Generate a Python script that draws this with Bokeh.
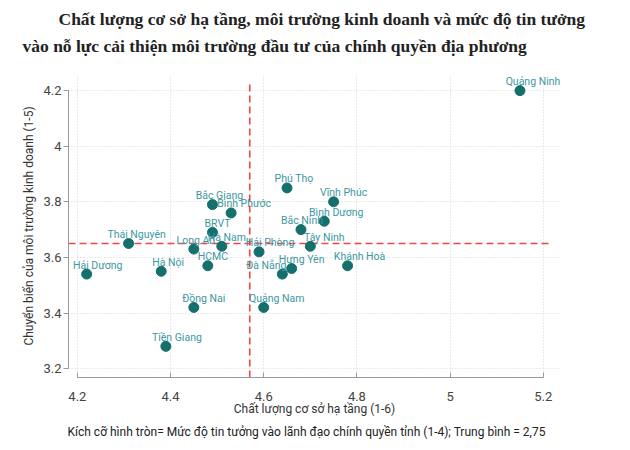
from bokeh.plotting import figure
from bokeh.models import (ColumnDataSource, FixedTicker, CustomJSTickFormatter, Title, LabelSet)
from bokeh.core.properties import value
from bokeh.embed import file_html
from bokeh.resources import INLINE

# ---- data ----
names = ["Quảng Ninh", "Hải Dương", "Thái Nguyên", "Hà Nội", "Bắc Giang", "Bình Phước",
         "BRVT", "Long An", "Hà Nam", "HCMC", "Đồng Nai", "Tiền Giang", "Hải Phòng",
         "Quảng Nam", "Đà Nẵng", "Hưng Yên", "Phú Thọ", "Bắc Ninh", "Tây Ninh",
         "Bình Dương", "Vĩnh Phúc", "Khánh Hoà"]
infra = [5.15, 4.22, 4.31, 4.38, 4.49, 4.53, 4.49, 4.45, 4.51, 4.48, 4.45, 4.39, 4.59,
         4.60, 4.64, 4.66, 4.65, 4.68, 4.70, 4.73, 4.75, 4.78]
env = [4.20, 3.54, 3.65, 3.55, 3.79, 3.76, 3.69, 3.63, 3.64, 3.57, 3.42, 3.28, 3.62,
       3.42, 3.54, 3.56, 3.85, 3.70, 3.64, 3.73, 3.80, 3.57]
mean_infra = 4.57
mean_env = 3.65
x_ticks = [4.2, 4.4, 4.6, 4.8, 5.0, 5.2]
y_ticks = [3.2, 3.4, 3.6, 3.8, 4.0, 4.2]

title_1 = "Chất lượng cơ sở hạ tầng, môi trường kinh doanh và mức độ tin tưởng"
title_2 = "vào nỗ lực cải thiện môi trường đầu tư của chính quyền địa phương"
x_label = "Chất lượng cơ sở hạ tầng (1-6)"
y_label = "Chuyển biến của môi trường kinh doanh (1-5)"
caption = "Kích cỡ hình tròn= Mức độ tin tưởng vào lãnh đạo chính quyền tỉnh (1-4); Trung bình = 2,75"

# label pixel nudges (style)
label_dx = [13, 11, 8, 7, 7, 13, 5, 2, 5, 5, 10, 11, 11, 13, -16, 10, 7, 1, 14, 12, 10, 12]

SANS = "Roboto"
TITLE_FONT = "Liberation Serif"
X_LO, X_HI = 4.181, 5.237
Y_LO, Y_HI = 3.168, 4.258
Y_LINE_TOP = 4.228
X_LINE_RIGHT = 5.217

src = ColumnDataSource(dict(x=infra, y=env, name=names, dx=label_dx))

p = figure(width=630, height=450, output_backend="svg", toolbar_location=None,
           x_range=(X_LO, X_HI), y_range=(Y_LO, Y_HI),
           min_border_left=68, min_border_right=70, min_border_top=74, min_border_bottom=73)
p.outline_line_color = None
p.background_fill_color = "white"

# axes
for ax in (p.xaxis[0], p.yaxis[0]):
    ax.axis_line_color = "#9a9a9a"
    ax.major_tick_line_color = "#9a9a9a"
    ax.minor_tick_line_color = None
    ax.major_label_text_font = SANS
    ax.major_label_text_font_size = "13px"
    ax.major_label_text_color = "#444444"
    ax.axis_label_text_font = SANS
    ax.axis_label_text_font_size = "12px"
    ax.axis_label_text_font_style = "normal"
    ax.axis_label_text_color = "#333333"
    ax.formatter = CustomJSTickFormatter(code="return String(Math.round(tick*10)/10)")

p.xaxis.ticker = FixedTicker(ticks=x_ticks)
p.yaxis.ticker = FixedTicker(ticks=y_ticks)
p.xaxis.bounds = (x_ticks[0], x_ticks[-1])
p.yaxis.bounds = (y_ticks[0], y_ticks[-1])
p.xaxis.major_tick_in = 5
p.xaxis.major_tick_out = 0
p.yaxis.major_tick_in = 0
p.yaxis.major_tick_out = 5
p.xaxis.major_label_standoff = 14
p.yaxis.major_label_standoff = 2
p.xaxis.axis_label = x_label
p.yaxis.axis_label = y_label
p.xaxis.axis_label_standoff = -2
p.yaxis.axis_label_standoff = 4

# grid
p.xgrid.ticker = FixedTicker(ticks=x_ticks)
p.ygrid.ticker = FixedTicker(ticks=y_ticks)
for g in (p.xgrid[0], p.ygrid[0]):
    g.grid_line_color = "#d6d6d6"
    g.grid_line_dash = "1 2"
    g.grid_line_width = 1

# mean lines
p.segment(x0=[mean_infra], y0=[Y_LO], x1=[mean_infra], y1=[Y_LINE_TOP],
          line_color="#ee4545", line_dash="7 4", line_width=1.6)
p.segment(x0=[X_LO], y0=[mean_env], x1=[X_LINE_RIGHT], y1=[mean_env],
          line_color="#ee4545", line_dash="7 4", line_width=1.6)

# points and labels
p.scatter("x", "y", source=src, size=10, color="#15706d")
labels = LabelSet(x="x", y="y", text="name", source=src, x_offset="dx", y_offset=9,
                  text_align="center", text_baseline="middle",
                  text_font=value(SANS), text_font_size="10.5px", text_color="#3d98a2")
p.add_layout(labels)

# titles
caption_t = Title(text=caption, align="left", offset=-1, text_font=SANS,
                  text_font_size="12px", text_font_style="normal", text_color="#222222",
                  standoff=8)
p.add_layout(caption_t, "below")
t2 = Title(text=title_2, align="left", offset=-46, text_font=TITLE_FONT,
           text_font_size="17.5px", text_font_style="bold", text_color="#222222", standoff=38)
t1 = Title(text=title_1, align="left", offset=-10, text_font=TITLE_FONT,
           text_font_size="17.5px", text_font_style="bold", text_color="#222222", standoff=-28)
p.add_layout(t2, "above")
p.add_layout(t1, "above")

open("out.html", "w").write(file_html(p, INLINE))
